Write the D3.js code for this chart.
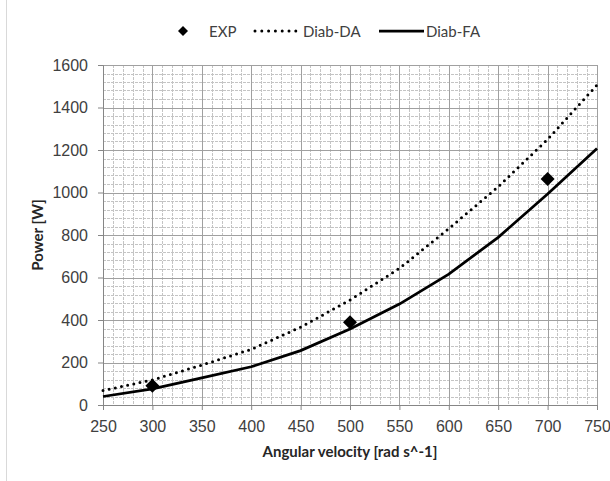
<!DOCTYPE html>
<html>
<head>
<meta charset="utf-8">
<script src="https://cdn.jsdelivr.net/npm/d3@7"></script>
<style>
  body { margin: 0; background: #fff; }
  svg { font-family: Lato, "Open Sans", sans-serif; }
  .tick text { font-size: 16px; fill: #404040; }
</style>
</head>
<body>
<div id="chart"></div>
<script>
// Values
const omega = [250, 300, 350, 400, 450, 500, 550, 600, 650, 700, 750];
const diabDA = [68, 118, 188, 262, 366, 494, 643, 830, 1027, 1250, 1506];
const diabFA = [40, 76, 128, 180, 256, 358, 475, 616, 789, 993, 1207];
const expOmega = [300, 500, 700];
const expPower = [91, 389, 1064];
const xTicks = [250, 300, 350, 400, 450, 500, 550, 600, 650, 700, 750];
const yTicks = [0, 200, 400, 600, 800, 1000, 1200, 1400, 1600];

const W = 610, H = 481;
const margin = {top: 65, right: 13, bottom: 76, left: 103};
const width = W - margin.left - margin.right;
const height = H - margin.top - margin.bottom;

const svg = d3.select('#chart').append('svg')
    .attr('width', W)
    .attr('height', H);

// outer chart border (only the left edge is in the picture)
svg.append('line')
    .attr('x1', 6.5).attr('x2', 6.5)
    .attr('y1', 0).attr('y2', H)
    .style('stroke', '#d9d9d9');

const g = svg.append('g')
    .attr('transform', `translate(${margin.left},${margin.top})`);

const x = d3.scaleLinear().domain([250, 750]).range([0, width]);
const y = d3.scaleLinear().domain([0, 1600]).range([height, 0]);

// minor grid
g.append('g')
    .selectAll('line')
    .data(d3.range(250, 751, 10).filter(v => v % 50 !== 0))
    .enter().append('line')
    .attr('x1', d => Math.round(x(d)) + 0.5).attr('x2', d => Math.round(x(d)) + 0.5)
    .attr('y1', 0).attr('y2', height)
    .style('stroke', '#c4c4c4')
    .style('stroke-dasharray', '3,1');

g.append('g')
    .selectAll('line')
    .data(d3.range(0, 1601, 40).filter(v => v % 200 !== 0))
    .enter().append('line')
    .attr('x1', 0).attr('x2', width)
    .attr('y1', d => Math.round(y(d)) + 0.5).attr('y2', d => Math.round(y(d)) + 0.5)
    .style('stroke', '#c4c4c4')
    .style('stroke-dasharray', '3,1');

// major grid
g.append('g')
    .selectAll('line')
    .data(xTicks)
    .enter().append('line')
    .attr('x1', d => Math.round(x(d)) + 0.5).attr('x2', d => Math.round(x(d)) + 0.5)
    .attr('y1', 0).attr('y2', height)
    .style('stroke', '#a0a0a0');

g.append('g')
    .selectAll('line')
    .data(yTicks)
    .enter().append('line')
    .attr('x1', 0).attr('x2', width)
    .attr('y1', d => Math.round(y(d)) + 0.5).attr('y2', d => Math.round(y(d)) + 0.5)
    .style('stroke', '#a0a0a0');

// axes
const xAxis = g.append('g')
    .attr('transform', `translate(0,${height})`)
    .call(d3.axisBottom(x).tickValues(xTicks).tickFormat(d3.format('d')).tickSize(5).tickPadding(11));
const yAxis = g.append('g')
    .call(d3.axisLeft(y).tickValues(yTicks).tickFormat(d3.format('d')).tickSize(5).tickPadding(10));
[xAxis, yAxis].forEach(a => {
    a.selectAll('path, line').style('stroke', '#868686');
});

// axis titles
g.append('text')
    .attr('x', width / 2)
    .attr('y', height + 52)
    .attr('text-anchor', 'middle')
    .style('font-size', '15px')
    .style('font-weight', 'bold')
    .style('fill', '#262626')
    .text('Angular velocity [rad s^-1]');

g.append('text')
    .attr('transform', 'rotate(-90)')
    .attr('x', -height / 2)
    .attr('y', -60)
    .attr('text-anchor', 'middle')
    .style('font-size', '15px')
    .style('font-weight', 'bold')
    .style('fill', '#262626')
    .text('Power [W]');

// lines
const line = d3.line()
    .x(d => x(d[0]))
    .y(d => y(d[1]));

g.append('path')
    .datum(omega.map((w, i) => [w, diabDA[i]]))
    .attr('d', line)
    .style('fill', 'none')
    .style('stroke', '#000')
    .style('stroke-width', 3)
    .style('stroke-linecap', 'round')
    .style('stroke-dasharray', '0,6.3');

g.append('path')
    .datum(omega.map((w, i) => [w, diabFA[i]]))
    .attr('d', line)
    .style('fill', 'none')
    .style('stroke', '#000')
    .style('stroke-width', 2.75);

// experimental points
const diamond = r => `M0,${-r}L${r},0L0,${r}L${-r},0Z`;
g.selectAll('.exp')
    .data(expOmega.map((w, i) => [w, expPower[i]]))
    .enter().append('path')
    .attr('class', 'exp')
    .attr('transform', d => `translate(${x(d[0])},${y(d[1])})`)
    .attr('d', diamond(7))
    .style('fill', '#000');

// legend
const legend = svg.append('g').attr('transform', 'translate(0,31)');
legend.append('path')
    .attr('transform', 'translate(183,0)')
    .attr('d', diamond(5))
    .style('fill', '#000');
legend.append('text').attr('x', 209).attr('y', 5.5)
    .style('font-size', '15px').style('fill', '#404040').text('EXP');

legend.append('line')
    .attr('x1', 255).attr('x2', 296).attr('y1', 0).attr('y2', 0)
    .style('stroke', '#000').style('stroke-width', 3)
    .style('stroke-linecap', 'round').style('stroke-dasharray', '0,6.8');
legend.append('text').attr('x', 303).attr('y', 5.5)
    .style('font-size', '15px').style('fill', '#404040').text('Diab-DA');

legend.append('line')
    .attr('x1', 379).attr('x2', 424).attr('y1', 0).attr('y2', 0)
    .style('stroke', '#000').style('stroke-width', 2.75);
legend.append('text').attr('x', 426).attr('y', 5.5)
    .style('font-size', '15px').style('fill', '#404040').text('Diab-FA');
</script>
</body>
</html>
